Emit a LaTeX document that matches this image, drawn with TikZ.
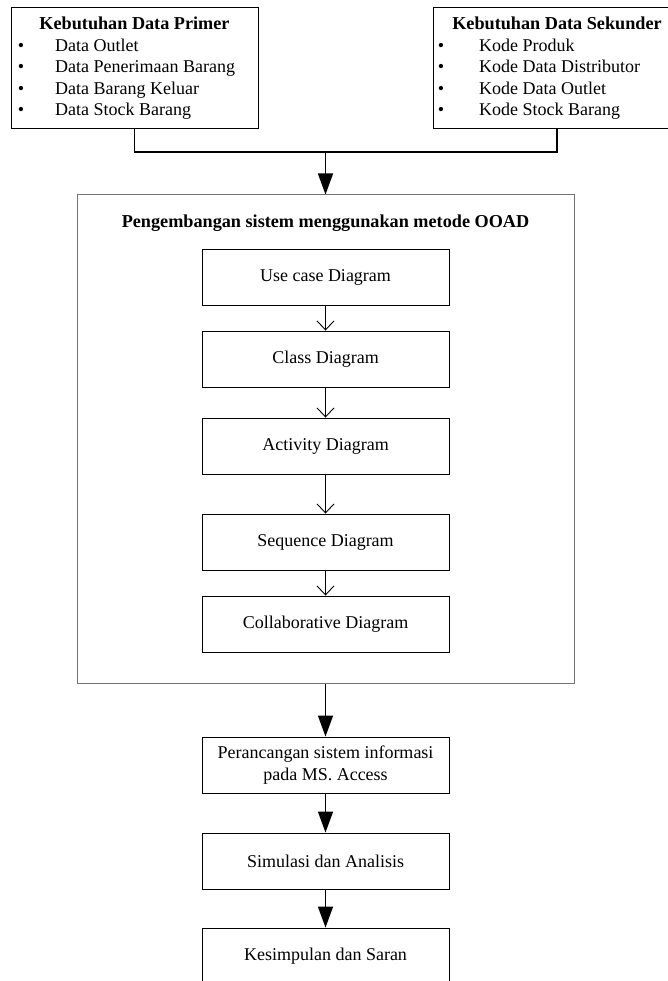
\documentclass[tikz,border=0pt]{standalone}
\usepackage{fontspec}
\setmainfont{Liberation Serif}
\usetikzlibrary{arrows.meta}
\begin{document}
\begin{tikzpicture}[x=1pt,y=-1pt,
  txt/.style={font=\fontsize{18}{21.5}\selectfont, inner sep=0pt},
  boldtxt/.style={font=\fontsize{18.2}{21.5}\selectfont\bfseries, inner sep=0pt},
  listbox/.style={draw=black, line width=0.9pt, minimum width=247pt, minimum height=121pt, inner sep=0pt},
  stepbox/.style={draw=black, line width=0.9pt, minimum width=247pt, minimum height=56pt, inner sep=0pt,
     align=center, font=\fontsize{18}{22}\selectfont},
  outerbox/.style={draw=black!55, line width=1pt, minimum width=497pt, minimum height=488pt, inner sep=0pt},
  bigarrow/.style={line width=1.4pt, -{Triangle[length=21pt,width=15pt]}},
  smallarrow/.style={line width=0.9pt, -{Straight Barb[length=9pt,width=17pt]}},
  link/.style={line width=1.4pt}]
\useasboundingbox (0,0) rectangle (668,981);
\clip (0,0) rectangle (668,981);

% primary data box
\node[listbox] (prim) at (134.5,67.5) {};
\node[boldtxt, anchor=base] (primt) at (134.5,29.5) {Kebutuhan Data Primer};
\foreach \i/\t/\y in {1/Data Outlet/51.5, 2/Data Penerimaan Barang/73, 3/Data Barang Keluar/94.5, 4/Data Stock Barang/116}{
  \node[txt, anchor=base] (pb\i) at (21,\y) {\textbullet};
  \node[txt, anchor=base west] (pt\i) at (55,\y) {\t};
}

% secondary data box
\node[listbox] (sek) at (557,67.5) {};
\node[boldtxt, anchor=base] (sekt) at (557,29.5) {Kebutuhan Data Sekunder};
\foreach \i/\t/\y in {1/Kode Produk/51.5, 2/Kode Data Distributor/73, 3/Kode Data Outlet/94.5, 4/Kode Stock Barang/116}{
  \node[txt, anchor=base] (sb\i) at (441,\y) {\textbullet};
  \node[txt, anchor=base west] (st\i) at (479,\y) {\t};
}

% joining connector
\coordinate (j) at (325.5,152);
\draw[link] (prim.south) |- (j) -| (sek.south);

% OOAD box
\node[outerbox] (ooad) at (325.5,439) {};
\node[boldtxt, anchor=base] (ooadt) at (325.5,228) {Pengembangan sistem menggunakan metode OOAD};
\draw[bigarrow] (j) -- (ooad.north);

\node[stepbox] (uc) at (325.5,277) {Use case Diagram};
\node[stepbox] (cd) at (325.5,359) {Class Diagram};
\node[stepbox] (ad) at (325.5,446) {Activity Diagram};
\node[stepbox] (sd) at (325.5,542) {Sequence Diagram};
\node[stepbox] (cod) at (325.5,624) {Collaborative Diagram};
\draw[smallarrow] (uc) -- (cd);
\draw[smallarrow] (cd) -- (ad);
\draw[smallarrow] (ad) -- (sd);
\draw[smallarrow] (sd) -- (cod);

% lower chain
\node[stepbox] (per) at (325.5,765) {Perancangan sistem informasi\\pada MS. Access};
\node[stepbox] (sim) at (325.5,861) {Simulasi dan Analisis};
\node[stepbox] (kes) at (325.5,956) {Kesimpulan dan Saran};
\draw[bigarrow] (ooad.south) -- (per.north);
\draw[bigarrow] (per) -- (sim);
\draw[bigarrow] (sim) -- (kes);
\end{tikzpicture}
\end{document}
